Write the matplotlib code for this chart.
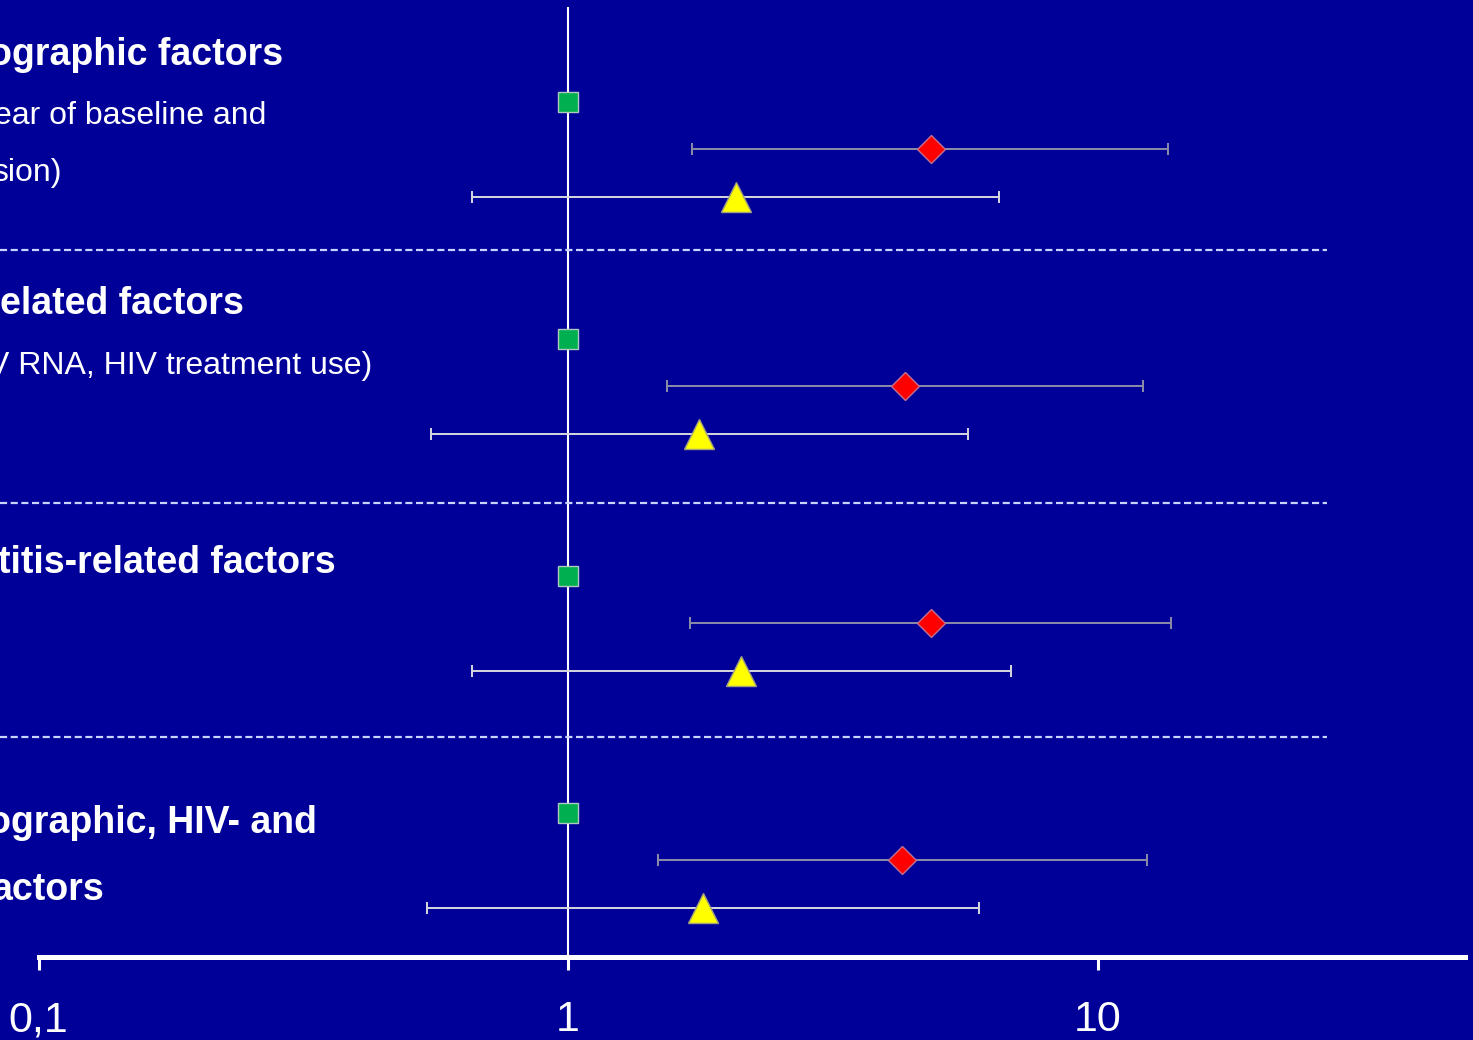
import numpy as np
import matplotlib.pyplot as plt
import matplotlib.transforms as mtransforms

# Odds ratios (log scale) for the four adjustment models
ref_or = [1.0, 1.0, 1.0, 1.0]
diamond_or = [4.85, 4.33, 4.85, 4.27]
diamond_lo = [1.715, 1.54, 1.70, 1.48]
diamond_hi = [13.6, 12.19, 13.77, 12.40]
tri_or = [2.08, 1.77, 2.12, 1.80]
tri_lo = [0.659, 0.551, 0.659, 0.542]
tri_hi = [6.52, 5.69, 6.87, 5.97]

tick_vals = [0.1, 1, 10]
tick_labels = ["0,1", "1", "10"]

# left labels (cut off at the slide edge): text, x offset px, baseline px, bold
labels = [
    ("ographic factors", -11, 65, True),
    ("ear of baseline and", -6, 124, False),
    ("sion)", -8, 181, False),
    ("elated factors", 0, 314, True),
    ("V RNA, HIV treatment use)", -12, 374, False),
    ("titis-related factors", -2, 573, True),
    ("ographic, HIV- and", -12, 833, True),
    ("actors", -8, 900, True),
]

bg = "#000099"
W, H = 1473, 1040
px_per_row = 47.4
row0_px = 102

def ypx(p):
    return (p - row0_px) / px_per_row

fig = plt.figure(figsize=(W / 100, H / 100), dpi=100, facecolor=bg)
ax = fig.add_axes([0, 0, 1, 1], facecolor=bg)
ax.set_xscale("log")
dec = 529.5
ax.set_xlim(10 ** (-568 / dec), 10 ** ((W - 568) / dec))
ax.set_ylim(ypx(H), ypx(0))

n = len(ref_or)
y_sq = np.arange(n) * 5
y_di = y_sq + 1
y_tr = y_sq + 2

# reference line at OR = 1
ax.plot([1, 1], [ypx(8), ypx(957)], color="white", lw=1.5, zorder=1)

# group separators
for yy in [ypx(250), ypx(503), ypx(737)]:
    ax.plot([ax.get_xlim()[0], 10 ** ((1327 - 568) / dec)], [yy, yy],
            color="#c8d4ff", lw=1.6, dashes=(3.2, 1.6), zorder=1)

d = np.array(diamond_or)
ax.errorbar(diamond_or, y_di, xerr=[d - np.array(diamond_lo), np.array(diamond_hi) - d],
            fmt="none", ecolor="#8c8ca8", elinewidth=1.4, capsize=4.3, capthick=1.4, zorder=2)
t = np.array(tri_or)
ax.errorbar(tri_or, y_tr, xerr=[t - np.array(tri_lo), np.array(tri_hi) - t],
            fmt="none", ecolor="#d8d8e0", elinewidth=1.4, capsize=4.3, capthick=1.4, zorder=2)

ax.plot(ref_or, y_sq, "s", ms=15, mfc="#00b050", mec="#b0c8c0", mew=1.0, ls="none", zorder=3)
ax.plot(diamond_or, y_di, "D", ms=14, mfc="#ff0000", mec="#c07090", mew=1.0, ls="none", zorder=3)
ax.plot(tri_or, y_tr, "^", ms=21, mfc="#ffff00", mec="#a0a080", mew=1.0, ls="none", zorder=3)

# x axis
for s in ["top", "left", "right"]:
    ax.spines[s].set_visible(False)
ax.spines["bottom"].set_position(("data", ypx(957)))
ax.spines["bottom"].set_bounds(0.1, 10 ** ((1465 - 568) / dec))
ax.spines["bottom"].set_color("white")
ax.spines["bottom"].set_linewidth(3.6)
ax.set_xticks(tick_vals)
ax.set_xticklabels(tick_labels)
ax.xaxis.set_minor_locator(plt.NullLocator())
ax.tick_params(axis="x", direction="out", length=9.5, width=2.2, color="white",
               labelcolor="white", labelsize=31, pad=21.5)
for lab in ax.get_xticklabels():
    lab.set_family(["Liberation Sans", "DejaVu Sans"])
ax.set_yticks([])

trans = mtransforms.blended_transform_factory(fig.transFigure, ax.transData)
for txt, xo, yb, bold in labels:
    ax.text(xo / W, ypx(yb), txt, transform=trans, color="white",
            fontsize=27 if bold else 23, fontweight="bold" if bold else "normal",
            family=["Liberation Sans", "DejaVu Sans"], ha="left", va="baseline", clip_on=False)

fig.savefig("out.png", dpi=100, facecolor=bg)
